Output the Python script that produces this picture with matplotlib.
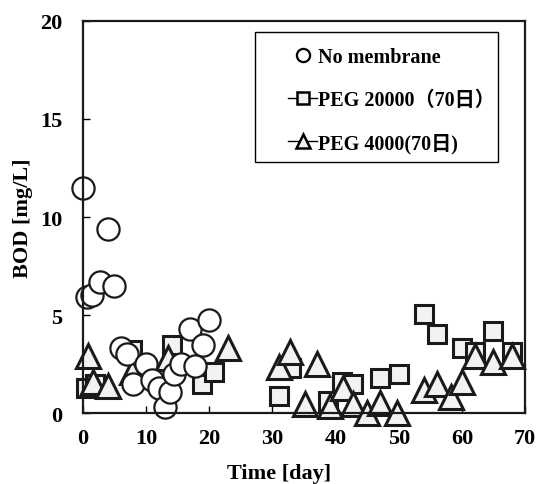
import matplotlib
matplotlib.use('Agg')
import matplotlib.pyplot as plt
from matplotlib.lines import Line2D
from matplotlib.patches import Rectangle

plt.rcParams['font.family'] = ['Liberation Serif', 'Noto Sans CJK JP']
plt.rcParams['font.weight'] = 'bold'

# No membrane
day_none = [0, 0.6, 1.5, 2.7, 4, 5, 6, 7, 7.9, 10, 11, 12, 13, 13.8, 14.5, 15.5, 17, 17.7, 19, 20]
bod_none = [11.5, 5.9, 6.0, 6.7, 9.4, 6.5, 3.3, 3.0, 1.5, 2.5, 1.7, 1.3, 0.3, 1.1, 2.0, 2.5, 4.3, 2.4, 3.5, 4.75]

# PEG 20000
day_p20 = [0.5, 2, 7.8, 14.1, 18.9, 20.8, 31, 33, 38.8, 41, 42.8, 47, 50, 54, 56, 60, 62, 65, 68]
bod_p20 = [1.3, 1.5, 3.2, 3.5, 1.5, 2.1, 0.9, 2.3, 0.6, 1.6, 1.5, 1.8, 2.0, 5.05, 4.05, 3.3, 3.1, 4.2, 3.1]

# PEG 4000
day_p4 = [0.8, 1.6, 4, 7.8, 13.5, 23, 31, 32.8, 37, 35.2, 39.1, 41.2, 42.8, 45, 47, 49.8,
          54, 56, 58.2, 60, 62, 65, 68]
bod_p4 = [2.9, 1.6, 1.4, 2.1, 2.8, 3.3, 2.35, 3.1, 2.5, 0.45, 0.35, 1.3, 0.45, 0.0, 0.5, 0.0,
          1.2, 1.5, 0.8, 1.6, 2.9, 2.6, 2.9]

labels = ['No membrane', 'PEG 20000（70日）', 'PEG 4000(70日)']
fill = '#f2f2f2'
edge = '#1a1a1a'

fig = plt.figure(figsize=(5.38, 4.85), dpi=100)
ax = fig.add_axes([0.154, 0.146, 0.822, 0.809])

ax.plot(day_p20, bod_p20, 's', ms=13, mfc=fill, mec=edge, mew=2.2, ls='none', clip_on=False)
ax.plot(day_p4, bod_p4, '^', ms=17, mfc=fill, mec=edge, mew=2.2, ls='none', clip_on=False)
ax.plot(day_none, bod_none, 'o', ms=16, mfc='white', mec=edge, mew=1.6, ls='none', clip_on=False)

ax.set_xlim(0, 70)
ax.set_ylim(0, 20)
ax.set_xticks(range(0, 71, 10))
ax.set_yticks(range(0, 21, 5))
ax.tick_params(direction='in', length=5, width=1, labelsize=16)
ax.tick_params(axis='x', pad=11)
ax.tick_params(axis='y', pad=15)
for lab in ax.get_xticklabels() + ax.get_yticklabels():
    lab.set_fontweight('bold')
for s in ax.spines.values():
    s.set_linewidth(1.6)
    s.set_color(edge)

ax.set_xlabel('Time [day]', fontsize=16, fontweight='bold')
ax.xaxis.set_label_coords(0.443, -0.128)
ax.set_ylabel('BOD [mg/L]', fontsize=16, fontweight='bold', labelpad=5)

# legend frame drawn separately (wider left margin than legend padding allows)
ax.add_patch(Rectangle((0.389, 0.640), 0.55, 0.332, transform=ax.transAxes,
                       fill=True, fc='white', ec='black', lw=1, zorder=4))

handles = [
    Line2D([], [], marker='o', ms=9.5, mfc='white', mec='black', mew=1.6, ls='none'),
    Line2D([], [], marker='s', ms=8.5, mfc=fill, mec='black', mew=1.8, color='black', lw=1),
    Line2D([], [], marker='^', ms=9.5, mfc=fill, mec='black', mew=1.8, color='black', lw=1),
]
leg = ax.legend(handles, labels, loc='upper left', bbox_to_anchor=(0.464, 0.933),
                frameon=False, handlelength=1.45, handletextpad=0.05,
                labelspacing=1.13, borderpad=0, borderaxespad=0,
                prop={'size': 14.5, 'weight': 'bold'})
leg.set_zorder(5)

fig.savefig('out.png', dpi=100)
